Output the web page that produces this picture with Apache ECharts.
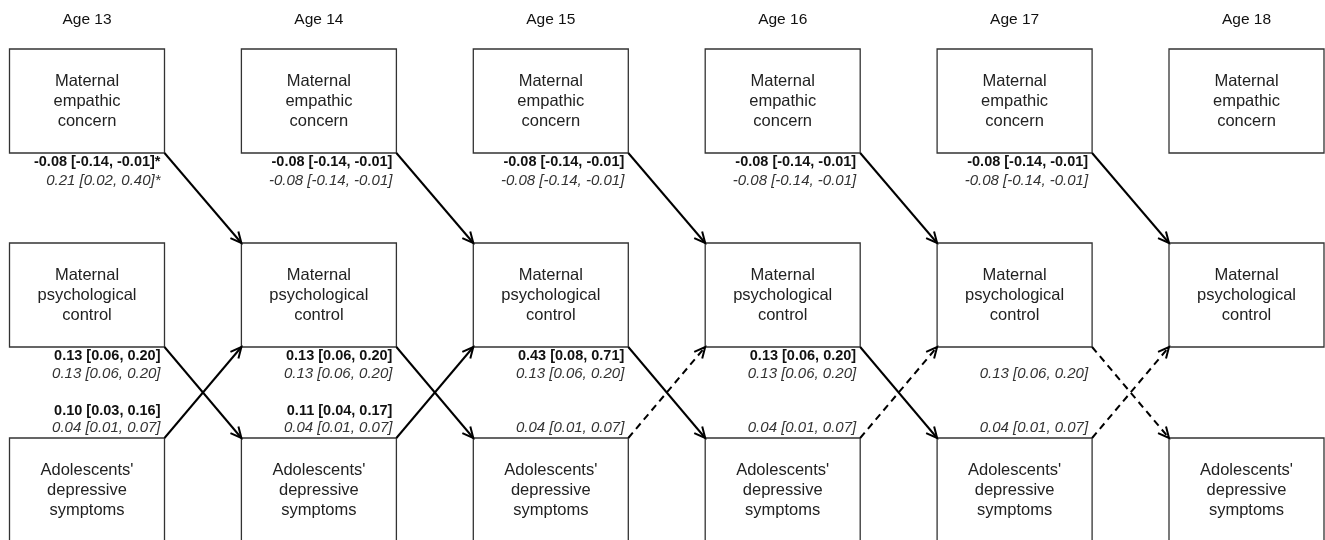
<!DOCTYPE html>
<html><head><meta charset="utf-8">
<script src="https://cdn.jsdelivr.net/npm/echarts@6.0.0/dist/echarts.min.js"></script>
<style>html,body{margin:0;padding:0;background:#fff}#main{width:1325px;height:540px}</style>
</head><body><div id="main"></div>
<script>
// ---- data ----
const ages = ['Age 13', 'Age 14', 'Age 15', 'Age 16', 'Age 17', 'Age 18'];
const constructs = ['Maternal\nempathic\nconcern', 'Maternal\npsychological\ncontrol', "Adolescents'\ndepressive\nsymptoms"];
// empathic concern (t) -> psychological control (t+1)
const empToCtrlBold = ['-0.08 [-0.14, -0.01]*', '-0.08 [-0.14, -0.01]', '-0.08 [-0.14, -0.01]', '-0.08 [-0.14, -0.01]', '-0.08 [-0.14, -0.01]'];
const empToCtrlItal = ['0.21 [0.02, 0.40]*', '-0.08 [-0.14, -0.01]', '-0.08 [-0.14, -0.01]', '-0.08 [-0.14, -0.01]', '-0.08 [-0.14, -0.01]'];
const empToCtrlSig = [true, true, true, true, true];
// psychological control (t) -> depressive symptoms (t+1)
const ctrlToDepBold = ['0.13 [0.06, 0.20]', '0.13 [0.06, 0.20]', '0.43 [0.08, 0.71]', '0.13 [0.06, 0.20]', ''];
const ctrlToDepItal = ['0.13 [0.06, 0.20]', '0.13 [0.06, 0.20]', '0.13 [0.06, 0.20]', '0.13 [0.06, 0.20]', '0.13 [0.06, 0.20]'];
const ctrlToDepSig = [true, true, true, true, false];
// depressive symptoms (t) -> psychological control (t+1)
const depToCtrlBold = ['0.10 [0.03, 0.16]', '0.11 [0.04, 0.17]', '', '', ''];
const depToCtrlItal = ['0.04 [0.01, 0.07]', '0.04 [0.01, 0.07]', '0.04 [0.01, 0.07]', '0.04 [0.01, 0.07]', '0.04 [0.01, 0.07]'];
const depToCtrlSig = [true, true, false, false, false];

// ---- layout (not data) ----
const L = { x0: 9.5, dx: 231.9, w: 155, h: 104, rowTop: [49, 243, 438], titleY: 20 };
const FONT = '"Liberation Sans", Arial, sans-serif';

const boxes = [];
ages.forEach((a, c) => constructs.forEach((t, r) => boxes.push([c, r])));
const arrows = [];
for (let c = 0; c < ages.length - 1; c++) {
  arrows.push([c, 0, 1, empToCtrlSig[c] ? 1 : 0]);
  arrows.push([c, 1, 2, ctrlToDepSig[c] ? 1 : 0]);
  arrows.push([c, 2, 1, depToCtrlSig[c] ? 1 : 0]);
}
const labels = []; // [col, slot, line, bold, text]
for (let c = 0; c < ages.length - 1; c++) {
  labels.push([c, 0, 0, 1, empToCtrlBold[c]]);
  labels.push([c, 0, 1, 0, empToCtrlItal[c]]);
  labels.push([c, 1, 0, 1, ctrlToDepBold[c]]);
  labels.push([c, 1, 1, 0, ctrlToDepItal[c]]);
  labels.push([c, 2, 0, 1, depToCtrlBold[c]]);
  labels.push([c, 2, 1, 0, depToCtrlItal[c]]);
}
const titles = ages.map((a, c) => [c, a]);

const colX = c => L.x0 + c * L.dx;

const chart = echarts.init(document.getElementById('main'));
chart.setOption({
  animation: false,
  grid: { left: 0, right: 0, top: 0, bottom: 0 },
  xAxis: { type: 'value', min: 0, max: 1325, show: false },
  yAxis: { type: 'value', min: 0, max: 540, inverse: true, show: false },
  series: [
    {
      type: 'custom', data: titles, silent: true,
      renderItem: (params, api) => {
        const c = api.value(0);
        const p = api.coord([colX(c) + L.w / 2, L.titleY]);
        return { type: 'text', style: { x: p[0], y: p[1], text: titles[params.dataIndex][1], align: 'center', verticalAlign: 'middle', font: '15.5px ' + FONT, fill: '#111' } };
      }
    },
    {
      type: 'custom', data: boxes, silent: true,
      renderItem: (params, api) => {
        const c = api.value(0), r = api.value(1);
        const p1 = api.coord([colX(c), L.rowTop[r]]);
        const p2 = api.coord([colX(c) + L.w, L.rowTop[r] + L.h]);
        return { type: 'group', children: [
          { type: 'rect', shape: { x: p1[0], y: p1[1], width: p2[0] - p1[0], height: p2[1] - p1[1] }, style: { fill: '#fff', stroke: '#333', lineWidth: 1.3 } },
          { type: 'text', style: { x: (p1[0] + p2[0]) / 2, y: (p1[1] + p2[1]) / 2, text: constructs[r], align: 'center', verticalAlign: 'middle', font: '16.5px ' + FONT, lineHeight: 20, fill: '#222' } }
        ] };
      }
    },
    {
      type: 'custom', data: arrows, silent: true,
      renderItem: (params, api) => {
        const c = api.value(0), fr = api.value(1), tr = api.value(2), sig = api.value(3);
        const down = tr > fr;
        const sy = down ? L.rowTop[fr] + L.h : L.rowTop[fr];
        const ey = down ? L.rowTop[tr] : L.rowTop[tr] + L.h;
        const s = api.coord([colX(c) + L.w, sy]);
        const e = api.coord([colX(c + 1), ey]);
        const ang = Math.atan2(e[1] - s[1], e[0] - s[0]);
        const hl = 12, ha = 0.45;
        const h1 = [e[0] - hl * Math.cos(ang - ha), e[1] - hl * Math.sin(ang - ha)];
        const h2 = [e[0] - hl * Math.cos(ang + ha), e[1] - hl * Math.sin(ang + ha)];
        return { type: 'group', children: [
          { type: 'line', shape: { x1: s[0], y1: s[1], x2: e[0], y2: e[1] }, style: { stroke: '#000', lineWidth: 2, lineDash: sig ? null : [7, 5] } },
          { type: 'polyline', shape: { points: [h1, e, h2] }, style: { stroke: '#000', lineWidth: 2, fill: null } }
        ] };
      }
    },
    {
      type: 'custom', data: labels, silent: true,
      renderItem: (params, api) => {
        const d = labels[params.dataIndex];
        const c = d[0], slot = d[1], line = d[2], bold = d[3], text = d[4];
        let y;
        if (slot === 0) y = L.rowTop[0] + L.h + 9 + line * 19;
        else if (slot === 1) y = L.rowTop[1] + L.h + 9 + line * 18;
        else y = L.rowTop[2] - 27 + line * 17;
        const p = api.coord([colX(c) + L.w - 4, y]);
        return { type: 'text', style: { x: p[0], y: p[1], text: text, align: 'right', verticalAlign: 'middle',
          font: bold ? 'bold 14.5px ' + FONT : 'italic 15px ' + FONT, fill: bold ? '#111' : '#333' } };
      }
    }
  ]
});
</script>
</body></html>
